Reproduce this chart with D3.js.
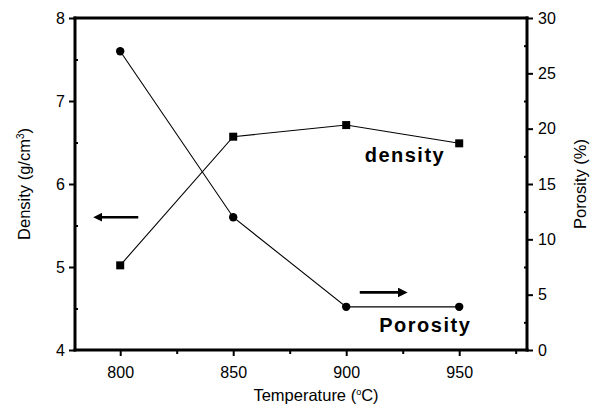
<!DOCTYPE html>
<html>
<head>
<meta charset="utf-8">
<script src="https://cdn.jsdelivr.net/npm/d3@7"></script>
<style>
  body { margin: 0; background: #fff; }
  text { font-family: "Liberation Sans", Arial, sans-serif; fill: #000; }
</style>
</head>
<body>
<svg width="598" height="408"></svg>
<script>
// data
var temps = [800, 850, 900, 950];
var density = [5.02, 6.57, 6.71, 6.49];
var porosity = [27.0, 12.0, 3.9, 3.9];
var xTicks = [800, 850, 900, 950];
var xMinor = [825, 875, 925, 975];
var yLeftTicks = [4, 5, 6, 7, 8];
var yLeftMinor = [4.5, 5.5, 6.5, 7.5];
var yRightTicks = [0, 5, 10, 15, 20, 25, 30];
var yRightMinor = [2.5, 7.5, 12.5, 17.5, 22.5, 27.5];

var svg = d3.select("svg"),
	margin = {top: 18, right: 71, bottom: 58, left: 75},
	width = +svg.attr("width") - margin.left - margin.right,
	height = +svg.attr("height") - margin.top - margin.bottom;

var x = d3.scaleLinear().domain([780, 980]).range([0, width]);
var yL = d3.scaleLinear().domain([4, 8]).range([height, 0]);
var yR = d3.scaleLinear().domain([0, 30]).range([height, 0]);

var g = svg.append("g")
	.attr("transform", "translate(" + margin.left + "," + margin.top + ")");

// axes
var xAxis = d3.axisBottom(x).tickValues(xTicks).tickSize(6).tickPadding(11).tickFormat(d3.format("d"));
var xAxisMinor = d3.axisBottom(x).tickValues(xMinor).tickSize(4).tickFormat("");
var yAxisL = d3.axisLeft(yL).tickValues(yLeftTicks).tickSize(6).tickPadding(4).tickFormat(d3.format("d"));
var yAxisLMinor = d3.axisLeft(yL).tickValues(yLeftMinor).tickSize(-3).tickFormat("");
var yAxisR = d3.axisRight(yR).tickValues(yRightTicks).tickSize(6).tickPadding(5).tickFormat(d3.format("d"));
var yAxisRMinor = d3.axisRight(yR).tickValues(yRightMinor).tickSize(-3).tickFormat("");

function styleAxis(sel) {
	sel.select(".domain").remove();
	sel.selectAll("line").attr("stroke", "#000").attr("stroke-width", 2);
	sel.selectAll("text").style("font-size", "16px").attr("fill", "#000");
}

g.append("g").attr("transform", "translate(0," + height + ")").call(xAxis).call(styleAxis);
g.append("g").attr("transform", "translate(0," + height + ")").call(xAxisMinor).call(styleAxis);
g.append("g").call(yAxisL).call(styleAxis);
g.append("g").call(yAxisLMinor).call(styleAxis);
g.append("g").attr("transform", "translate(" + width + ",0)").call(yAxisR).call(styleAxis);
g.append("g").attr("transform", "translate(" + width + ",0)").call(yAxisRMinor).call(styleAxis);

// frame, four thick sides
var sides = [[0, 0, width, 0], [width, 0, width, height], [width, height, 0, height], [0, height, 0, 0]];
g.selectAll(".side")
	.data(sides)
	.enter().append("line")
	.attr("class", "side")
	.attr("x1", function(d) { return d[0]; })
	.attr("y1", function(d) { return d[1]; })
	.attr("x2", function(d) { return d[2]; })
	.attr("y2", function(d) { return d[3]; })
	.style("stroke", "#000")
	.style("stroke-width", "3px")
	.style("stroke-linecap", "square");

// density line + squares
var dLine = d3.line()
	.x(function(d, i) { return x(temps[i]); })
	.y(function(d) { return yL(d); });

g.append("path")
	.datum(density)
	.attr("fill", "none")
	.attr("stroke", "#000")
	.attr("stroke-width", 1.1)
	.attr("d", dLine);

g.selectAll(".sq")
	.data(density)
	.enter().append("rect")
	.attr("class", "sq")
	.attr("x", function(d, i) { return x(temps[i]) - 4; })
	.attr("y", function(d) { return yL(d) - 4; })
	.attr("width", 8).attr("height", 8)
	.attr("fill", "#000");

// porosity line + circles
var pLine = d3.line()
	.x(function(d, i) { return x(temps[i]); })
	.y(function(d) { return yR(d); });

g.append("path")
	.datum(porosity)
	.attr("fill", "none")
	.attr("stroke", "#000")
	.attr("stroke-width", 1.1)
	.attr("d", pLine);

g.selectAll(".dot")
	.data(porosity)
	.enter().append("circle")
	.attr("class", "dot")
	.attr("cx", function(d, i) { return x(temps[i]); })
	.attr("cy", function(d) { return yR(d); })
	.attr("r", 4.2)
	.attr("fill", "#000");

// arrows
svg.append("defs").append("marker")
	.attr("id", "head")
	.attr("viewBox", "0 0 10 10")
	.attr("refX", 5).attr("refY", 5)
	.attr("markerWidth", 3.5).attr("markerHeight", 3.5)
	.attr("orient", "auto-start-reverse")
	.append("path")
	.attr("d", "M0,0 L10,5 L0,10 z")
	.attr("fill", "#000");

g.append("line")
	.attr("x1", x(808)).attr("y1", yL(5.6))
	.attr("x2", x(790)).attr("y2", yL(5.6))
	.attr("stroke", "#000").attr("stroke-width", 2.5)
	.attr("marker-end", "url(#head)");

g.append("line")
	.attr("x1", x(906)).attr("y1", yR(5.2))
	.attr("x2", x(925)).attr("y2", yR(5.2))
	.attr("stroke", "#000").attr("stroke-width", 2.8)
	.attr("marker-end", "url(#head)");

// series labels
g.append("text")
	.attr("x", x(926))
	.attr("y", yL(6.27))
	.attr("text-anchor", "middle")
	.style("font-size", "20px")
	.style("font-weight", "bold")
	.style("letter-spacing", "1.5px")
	.text("density");

g.append("text")
	.attr("x", x(935))
	.attr("y", yR(1.63))
	.attr("text-anchor", "middle")
	.style("font-size", "20px")
	.style("font-weight", "bold")
	.style("letter-spacing", "1.5px")
	.text("Porosity");

// axis titles
svg.append("text")
	.attr("x", 316)
	.attr("y", 401)
	.attr("text-anchor", "middle")
	.style("font-size", "16.5px")
	.html("Temperature (<tspan dy='-6' style='font-size:9px'>o</tspan><tspan dy='6'>C)</tspan>");

svg.append("text")
	.attr("transform", "translate(30," + (margin.top + height / 2) + ") rotate(-90)")
	.attr("text-anchor", "middle")
	.style("font-size", "16.5px")
	.html("Density (g/cm<tspan dy='-6' style='font-size:10px'>3</tspan><tspan dy='6'>)</tspan>");

svg.append("text")
	.attr("transform", "translate(586," + (margin.top + height / 2) + ") rotate(-90)")
	.attr("text-anchor", "middle")
	.style("font-size", "16.5px")
	.text("Porosity (%)");
</script>
</body>
</html>
